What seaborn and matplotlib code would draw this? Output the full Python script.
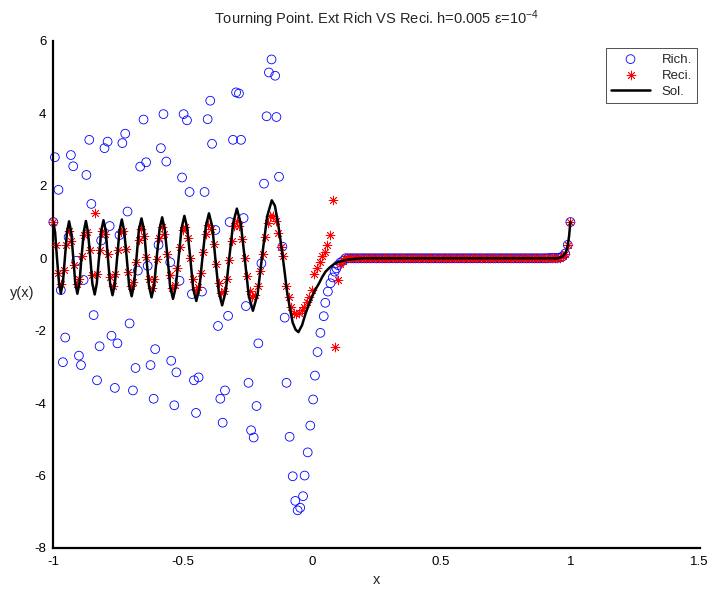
import matplotlib
matplotlib.use("Agg")
import matplotlib.pyplot as plt
import seaborn as sns
import pandas as pd

# ---------------- data ----------------
title_text = "Tourning Point. Ext Rich VS Reci. h=0.005 \u03b5=10$^{-4}$"
x_ticks = [-1, -0.5, 0, 0.5, 1, 1.5]
x_tick_labels = ["-1", "-0.5", "0", "0.5", "1", "1.5"]
y_ticks = [-8, -6, -4, -2, 0, 2, 4, 6]
y_tick_labels = ["-8", "-6", "-4", "-2", "0", "2", "4", "6"]

# plateau grid (x = 0.13 ... 0.98) where all series sit on zero
flat_x = [0.13, 0.14, 0.15, 0.16, 0.17, 0.18, 0.19, 0.20, 0.21, 0.22, 0.23, 0.24,
          0.25, 0.26, 0.27, 0.28, 0.29, 0.30, 0.31, 0.32, 0.33, 0.34, 0.35, 0.36,
          0.37, 0.38, 0.39, 0.40, 0.41, 0.42, 0.43, 0.44, 0.45, 0.46, 0.47, 0.48,
          0.49, 0.50, 0.51, 0.52, 0.53, 0.54, 0.55, 0.56, 0.57, 0.58, 0.59, 0.60,
          0.61, 0.62, 0.63, 0.64, 0.65, 0.66, 0.67, 0.68, 0.69, 0.70, 0.71, 0.72,
          0.73, 0.74, 0.75, 0.76, 0.77, 0.78, 0.79, 0.80, 0.81, 0.82, 0.83, 0.84,
          0.85, 0.86, 0.87, 0.88, 0.89, 0.90, 0.91, 0.92, 0.93, 0.94, 0.95, 0.96,
          0.97, 0.98]
flat_y = [0.00, 0.00, 0.00, 0.00, 0.00, 0.00, 0.00, 0.00, 0.00, 0.00, 0.00, 0.00,
          0.00, 0.00, 0.00, 0.00, 0.00, 0.00, 0.00, 0.00, 0.00, 0.00, 0.00, 0.00,
          0.00, 0.00, 0.00, 0.00, 0.00, 0.00, 0.00, 0.00, 0.00, 0.00, 0.00, 0.00,
          0.00, 0.00, 0.00, 0.00, 0.00, 0.00, 0.00, 0.00, 0.00, 0.00, 0.00, 0.00,
          0.00, 0.00, 0.00, 0.00, 0.00, 0.00, 0.00, 0.00, 0.00, 0.00, 0.00, 0.00,
          0.00, 0.00, 0.00, 0.00, 0.00, 0.00, 0.00, 0.00, 0.00, 0.00, 0.00, 0.00,
          0.00, 0.00, 0.00, 0.00, 0.00, 0.00, 0.00, 0.01, 0.01, 0.01, 0.01, 0.02,
          0.05, 0.13]

# "Rich." (blue circles)
rich_x_left = [-1.000, -0.994, -0.980, -0.971, -0.963, -0.954, -0.941, -0.932, -0.923,
               -0.911, -0.901, -0.893, -0.883, -0.872, -0.861, -0.853, -0.844, -0.831,
               -0.821, -0.815, -0.802, -0.790, -0.782, -0.775, -0.762, -0.752, -0.744,
               -0.733, -0.722, -0.713, -0.705, -0.692, -0.682, -0.673, -0.664, -0.651,
               -0.641, -0.635, -0.624, -0.612, -0.606, -0.593, -0.584, -0.574, -0.563,
               -0.548, -0.544, -0.532, -0.524, -0.512, -0.502, -0.496, -0.483, -0.473,
               -0.464, -0.456, -0.448, -0.438, -0.425, -0.415, -0.403, -0.393, -0.386,
               -0.373, -0.363, -0.354, -0.345, -0.336, -0.324, -0.318, -0.305, -0.293,
               -0.282, -0.274, -0.264, -0.255, -0.245, -0.235, -0.225, -0.214, -0.207,
               -0.195, -0.185, -0.175, -0.166, -0.156, -0.142, -0.137, -0.127, -0.114,
               -0.105, -0.098, -0.086, -0.074, -0.064, -0.055, -0.045, -0.034, -0.028,
               -0.016, -0.006, 0.005, 0.012, 0.022, 0.033, 0.046, 0.052, 0.062, 0.072,
               0.081, 0.088, 0.095, 0.101, 0.110, 0.121]
rich_y_left = [1.00, 2.79, 1.89, -0.88, -2.87, -2.19, 0.58, 2.85, 2.54,
               -0.07, -2.69, -2.95, -0.60, 2.30, 3.27, 1.50, -1.57, -3.37,
               -2.43, 0.49, 3.04, 3.22, 0.89, -2.14, -3.58, -2.35, 0.64,
               3.18, 3.44, 1.29, -1.80, -3.65, -3.03, -0.34, 2.53, 3.83,
               2.65, -0.21, -2.95, -3.88, -2.51, 0.37, 3.04, 3.98, 2.67,
               -0.11, -2.83, -4.06, -3.15, -0.62, 2.23, 3.98, 3.81, 1.83,
               -0.99, -3.37, -4.27, -3.29, -0.92, 1.83, 3.84, 4.35, 3.16,
               0.78, -1.87, -3.88, -4.54, -3.65, -1.59, 1.00, 3.27, 4.58,
               4.55, 3.27, 1.11, -1.32, -3.44, -4.75, -4.95, -4.08, -2.35,
               -0.14, 2.06, 3.92, 5.13, 5.49, 5.04, 3.90, 2.25, 0.32,
               -1.64, -3.44, -4.93, -6.02, -6.70, -6.96, -6.89, -6.57, -6.00,
               -5.36, -4.62, -3.90, -3.24, -2.59, -2.06, -1.60, -1.23, -0.92, -0.69,
               -0.53, -0.37, -0.28, -0.19, -0.12, -0.07]
rich_x_right = [0.99, 1.00]
rich_y_right = [0.37, 1.00]

# "Reci." (red asterisks)
reci_x_left = [-1.00, -0.99, -0.98, -0.97, -0.96, -0.95, -0.94, -0.93, -0.92, -0.91,
               -0.90, -0.89, -0.88, -0.87, -0.86, -0.85, -0.84, -0.83, -0.82, -0.81,
               -0.80, -0.79, -0.78, -0.77, -0.76, -0.75, -0.74, -0.73, -0.72, -0.71,
               -0.70, -0.69, -0.68, -0.67, -0.66, -0.65, -0.64, -0.63, -0.62, -0.61,
               -0.60, -0.59, -0.58, -0.57, -0.56, -0.55, -0.54, -0.53, -0.52, -0.51,
               -0.50, -0.49, -0.48, -0.47, -0.46, -0.45, -0.44, -0.43, -0.42, -0.41,
               -0.40, -0.39, -0.38, -0.37, -0.36, -0.35, -0.34, -0.33, -0.32, -0.31,
               -0.30, -0.29, -0.28, -0.27, -0.26, -0.25, -0.24, -0.23, -0.22, -0.21,
               -0.20, -0.19, -0.18, -0.17, -0.16, -0.15, -0.14, -0.13, -0.12, -0.11,
               -0.10, -0.09, -0.08, -0.07, -0.06, -0.05, -0.04, -0.03, -0.02, -0.01,
               0.00, 0.01, 0.02, 0.03, 0.04, 0.05, 0.06, 0.07, 0.08, 0.09,
               0.10, 0.11, 0.12]
reci_y_left = [1.00, 0.36, -0.40, -0.72, -0.33, 0.37, 0.76, 0.49, -0.20, -0.70,
               -0.57, 0.05, 0.65, 0.72, 0.22, -0.45, 1.24, -0.44, 0.23, 0.74,
               0.68, 0.12, -0.53, -0.76, -0.43, 0.22, 0.73, 0.74, 0.26, -0.37,
               -0.76, -0.66, -0.11, 0.51, 0.82, 0.62, 0.04, -0.56, -0.81, -0.58,
               -0.01, 0.57, 0.85, 0.66, 0.13, -0.47, -0.82, -0.74, -0.28, 0.32,
               0.77, 0.86, 0.55, 0.00, -0.56, -0.87, -0.80, -0.40, 0.17, 0.67,
               0.92, 0.82, 0.40, -0.17, -0.69, -0.96, -0.90, -0.57, -0.06, 0.48,
               0.88, 1.03, 0.90, 0.53, 0.02, -0.50, -0.90, -1.08, -1.02, -0.76,
               -0.35, 0.13, 0.60, 0.97, 1.17, 1.17, 1.02, 0.70, 0.32, 0.06,
               -0.78, -1.06, -1.34, -1.50, -1.55, -1.52, -1.43, -1.34, -1.20, -1.06,
               -0.88, -0.43, -0.28, -0.10, 0.06, 0.18, 0.37, 0.64, 1.61, -2.44,
               -0.60, -0.15, -0.08]
reci_x_right = [0.99, 1.00]
reci_y_right = [0.37, 1.00]

# "Sol." (black line)
sol_x = [-1.000, -0.993, -0.986, -0.978, -0.971, -0.963, -0.955, -0.947, -0.939,
         -0.931, -0.923, -0.915, -0.907, -0.899, -0.891, -0.882, -0.874,
         -0.866, -0.857, -0.849, -0.840, -0.832, -0.823, -0.815, -0.806,
         -0.797, -0.789, -0.780, -0.771, -0.762, -0.753, -0.744, -0.735,
         -0.726, -0.716, -0.707, -0.697, -0.688, -0.678, -0.669, -0.659,
         -0.649, -0.640, -0.630, -0.620, -0.610, -0.600, -0.589, -0.579,
         -0.569, -0.558, -0.548, -0.537, -0.526, -0.515, -0.504, -0.493,
         -0.482, -0.470, -0.459, -0.447, -0.435, -0.423, -0.410, -0.398,
         -0.385, -0.373, -0.360, -0.347, -0.333, -0.319, -0.304, -0.290,
         -0.275, -0.259, -0.244, -0.228, -0.210, -0.192, -0.173, -0.155,
         -0.143, -0.131, -0.120, -0.112, -0.104, -0.097, -0.085, -0.074, -0.063, -0.052,
         -0.038, -0.024, -0.011, 0.002, 0.015, 0.028, 0.040, 0.053, 0.070, 0.086,
         0.100, 0.118, 0.140, 0.170, 0.200, 0.500, 0.950, 0.960, 0.970, 0.980,
         0.985, 0.990, 0.995, 1.000]
sol_y = [1.00, 0.71, 0.02, -0.68, -0.97, -0.68, 0.03, 0.73, 1.02,
         0.73, 0.02, -0.69, -0.98, -0.69, 0.03, 0.74, 1.03,
         0.73, 0.02, -0.70, -1.00, -0.70, 0.03, 0.75, 1.05,
         0.75, 0.02, -0.72, -1.02, -0.71, 0.03, 0.76, 1.07,
         0.76, 0.01, -0.74, -1.05, -0.74, 0.03, 0.79, 1.10,
         0.78, 0.01, -0.76, -1.08, -0.76, 0.03, 0.81, 1.13,
         0.80, 0.01, -0.79, -1.12, -0.78, 0.03, 0.83, 1.17,
         0.83, -0.01, -0.84, -1.18, -0.83, 0.03, 0.89, 1.24,
         0.87, -0.03, -0.93, -1.30, -0.91, 0.04, 0.98, 1.37,
         0.96, -0.04, -1.04, -1.45, -1.00, 0.08, 1.15, 1.60,
         1.45, 0.98, 0.43, 0.00, -0.45, -0.87, -1.38, -1.78, -1.97, -2.04,
         -1.85, -1.52, -1.27, -1.04, -0.85, -0.69, -0.52, -0.37, -0.25, -0.16,
         -0.11, -0.07, -0.04, -0.015, 0.00, 0.00, 0.00, 0.02, 0.05, 0.135,
         0.22, 0.37, 0.61, 1.00]

# ---------------- tables ----------------
rich_df = pd.DataFrame({"x": rich_x_left + flat_x + rich_x_right,
                        "y": rich_y_left + flat_y + rich_y_right})
reci_df = pd.DataFrame({"x": reci_x_left + flat_x + reci_x_right,
                        "y": reci_y_left + flat_y + reci_y_right})
sol_df = pd.DataFrame({"x": sol_x, "y": sol_y})

# ---------------- style ----------------
sns.set_style("white")
plt.rcParams["font.family"] = ["Liberation Sans", "DejaVu Sans"]
plt.rcParams["mathtext.fontset"] = "custom"
plt.rcParams["mathtext.rm"] = "Liberation Sans"
plt.rcParams["mathtext.it"] = "Liberation Sans:italic"
plt.rcParams["axes.unicode_minus"] = False

fig = plt.figure(figsize=(7.10, 5.91), dpi=100)
ax = fig.add_axes([0.0751, 0.0728, 0.9103, 0.8579])

sns.scatterplot(data=rich_df, x="x", y="y", ax=ax, marker="o", s=40,
                color="#0000ff", facecolor="none", edgecolor="#0000ff",
                linewidth=0.6, label="Rich.", clip_on=False, zorder=2)
sns.scatterplot(data=reci_df, x="x", y="y", ax=ax, marker=(8, 2, 0), s=40,
                color="#ff0000", linewidth=0.6, label="Reci.", clip_on=False,
                zorder=3)
sns.lineplot(data=sol_df, x="x", y="y", ax=ax, sort=False, estimator=None,
             color="black", linewidth=1.8, label="Sol.", zorder=4)

ax.set_xlim(-1, 1.5)
ax.set_ylim(-8, 6)
ax.set_xticks(x_ticks)
ax.set_xticklabels(x_tick_labels)
ax.set_yticks(y_ticks)
ax.set_yticklabels(y_tick_labels)

for side in ["top", "right"]:
    ax.spines[side].set_visible(False)
for side in ["left", "bottom"]:
    ax.spines[side].set_linewidth(1.6)
    ax.spines[side].set_color("black")
ax.tick_params(direction="in", length=4.5, width=1.5, labelsize=9.5,
               colors="black")
ax.tick_params(axis="x", pad=6)
ax.tick_params(axis="y", pad=5)

ax.set_title(title_text, fontsize=10.5, pad=12)
ax.set_xlabel("x", fontsize=10.5)
ax.set_ylabel("y(x)", fontsize=10.5, rotation=0, va="center", ha="center")
ax.xaxis.set_label_coords(0.5, -0.05)
ax.yaxis.set_label_coords(-0.048, 0.503)

leg = ax.legend(loc="upper right", bbox_to_anchor=(0.996, 0.986),
                frameon=True, fancybox=False, edgecolor="black", fontsize=9.5,
                handlelength=2.9, handletextpad=0.9, borderpad=0.4,
                labelspacing=0.3, borderaxespad=0)
leg.get_frame().set_linewidth(0.6)

fig.savefig("out.png", dpi=100)
